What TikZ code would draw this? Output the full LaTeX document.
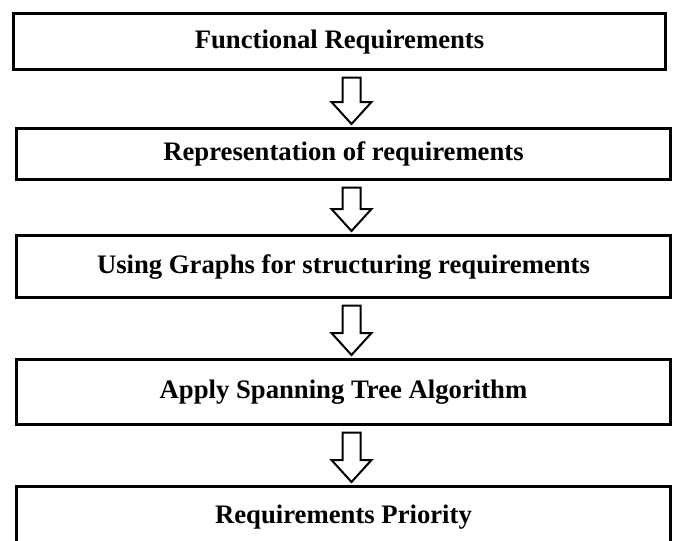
\documentclass[tikz,border=0pt]{standalone}
\usepackage{fontspec}
\setmainfont{Liberation Serif}
\usetikzlibrary{calc}

\tikzset{
    stagebox/.style={draw, line width=3pt, minimum width=654pt, inner sep=0pt,
        text height=18pt, text depth=5pt,
        font=\fontsize{26.7}{30}\selectfont\bfseries},
    hollowarrow/.style={draw, line width=2pt, line join=miter, fill=white}
}

\begin{document}
\begin{tikzpicture}[x=1pt, y=1pt]
        \useasboundingbox (0, 0) rectangle (675, -541);

        \node[stagebox, minimum width=652pt, minimum height=56pt] (func) at (339.5, -41.5) {Functional Requirements};
        \node[stagebox, minimum height=51pt] (repr) at (343.5, -154) {Representation of requirements};
        \node[stagebox, minimum height=62pt] (graphs) at (343.5, -266.5) {Using Graphs for structuring requirements};
        \node[stagebox, minimum height=65pt] (span) at (343.5, -392) {Apply Spanning Tree Algorithm};
        \node[stagebox, minimum height=60pt] (prio) at (343.5, -516.5) {Requirements Priority};

        %%arrow 1
        \coordinate (top1) at ($(repr.north |- func.south)+(8, -6.5)$);
        \coordinate (tip1) at ($(repr.north)+(8, 3)$);
            \draw[hollowarrow] ($(top1)+(-9, 0)$) -- ($(tip1)+(-9, 22)$) -- ($(tip1)+(-20, 22)$) -- (tip1)
                -- ($(tip1)+(20, 22)$) -- ($(tip1)+(9, 22)$) -- ($(top1)+(9, 0)$) -- cycle;

        %%arrow 2
        \coordinate (top2) at ($(graphs.north |- repr.south)+(8, -6.5)$);
        \coordinate (tip2) at ($(graphs.north)+(8, 3)$);
            \draw[hollowarrow] ($(top2)+(-9, 0)$) -- ($(tip2)+(-9, 22)$) -- ($(tip2)+(-20, 22)$) -- (tip2)
                -- ($(tip2)+(20, 22)$) -- ($(tip2)+(9, 22)$) -- ($(top2)+(9, 0)$) -- cycle;

        %%arrow 3
        \coordinate (top3) at ($(span.north |- graphs.south)+(8, -6.5)$);
        \coordinate (tip3) at ($(span.north)+(8, 3)$);
            \draw[hollowarrow] ($(top3)+(-9, 0)$) -- ($(tip3)+(-9, 22)$) -- ($(tip3)+(-20, 22)$) -- (tip3)
                -- ($(tip3)+(20, 22)$) -- ($(tip3)+(9, 22)$) -- ($(top3)+(9, 0)$) -- cycle;

        %%arrow 4
        \coordinate (top4) at ($(prio.north |- span.south)+(8, -6.5)$);
        \coordinate (tip4) at ($(prio.north)+(8, 3)$);
            \draw[hollowarrow] ($(top4)+(-9, 0)$) -- ($(tip4)+(-9, 22)$) -- ($(tip4)+(-20, 22)$) -- (tip4)
                -- ($(tip4)+(20, 22)$) -- ($(tip4)+(9, 22)$) -- ($(top4)+(9, 0)$) -- cycle;

    \end{tikzpicture}
\end{document}
